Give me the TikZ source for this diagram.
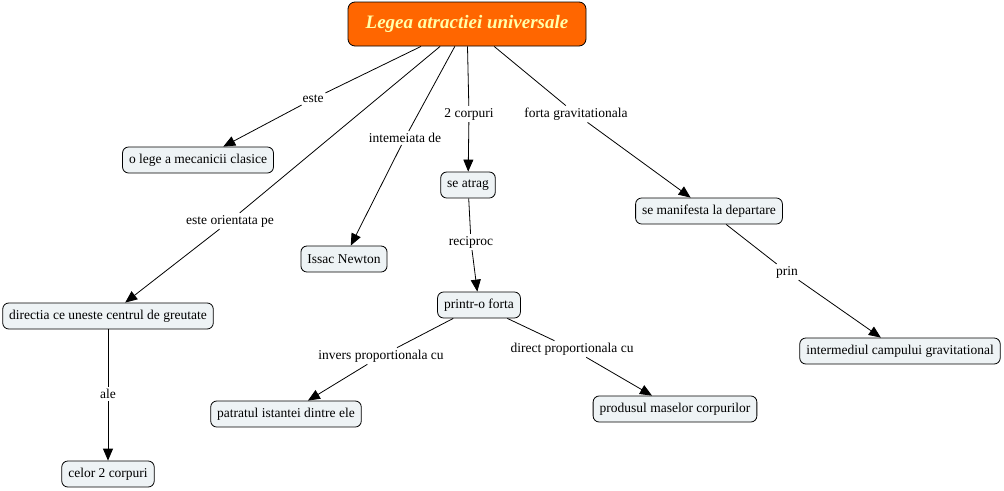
\documentclass[tikz,border=0pt]{standalone}
\usepackage{fontspec}
\setmainfont{Liberation Serif}
\usetikzlibrary{arrows.meta}

\definecolor{titleorange}{HTML}{FF6600}
\definecolor{titletext}{HTML}{FFFFAA}
\definecolor{conceptfill}{HTML}{EEF3F5}

\tikzset{
  titlebox/.style  = {draw, fill=titleorange, text=titletext, rounded corners=7pt,
                      minimum width=238pt, minimum height=44pt, line width=0.8pt,
                      font=\fontsize{19}{23}\selectfont\bfseries\itshape},
  concept/.style   = {draw, fill=conceptfill, rounded corners=6pt, minimum height=26pt,
                      inner xsep=6.5pt, line width=0.8pt, font=\fontsize{13.5}{15}\selectfont},
  linklabel/.style = {inner sep=2pt, font=\fontsize{13.5}{15}\selectfont},
  link/.style      = {line width=0.8pt, -{Triangle[length=12pt,width=10pt]}},
}

\begin{document}
\begin{tikzpicture}[x=1pt,y=-1pt]
        \useasboundingbox (0,0) rectangle (1004,490);

        % Concepts
        \node[titlebox] (lege)      at (467, 24) {Legea atractiei universale};
        \node[concept]  (clasice)   at (198,160) {o lege a mecanicii clasice};
        \node[concept]  (newton)    at (344,259) {Issac Newton};
        \node[concept]  (atrag)     at (468,185) {se atrag};
        \node[concept]  (departare) at (709,211) {se manifesta la departare};
        \node[concept]  (directia)  at (108,316) {directia ce uneste centrul de greutate};
        \node[concept]  (forta)     at (479,305) {printr-o forta};
        \node[concept]  (campul)    at (900,351) {intermediul campului gravitational};
        \node[concept]  (patratul)  at (286,414) {patratul istantei dintre ele};
        \node[concept]  (produsul)  at (675,409) {produsul maselor corpurilor};
        \node[concept]  (corpuri)   at (108,474) {celor 2 corpuri};

        % Link labels
        \node[linklabel] (este)      at (313, 99) {este};
        \node[linklabel] (intemeiata) at (405,138) {intemeiata de};
        \node[linklabel] (doi)       at (469,114) {2 corpuri};
        \node[linklabel] (gravit)    at (576,114) {forta gravitationala};
        \node[linklabel] (orientata) at (230,221) {este orientata pe};
        \node[linklabel] (reciproc)  at (471,242) {reciproc};
        \node[linklabel] (prin)      at (787,272) {prin};
        \node[linklabel] (ale)       at (108,394) {ale};
        \node[linklabel] (invers)    at (381,356) {invers proportionala cu};
        \node[linklabel] (direct)    at (572,349) {direct proportionala cu};

        % Links
        \draw[link]     (lege)      -- (este)       -- (clasice);
        \draw[link]     (lege)      -- (intemeiata) -- (newton);
        \draw[link]     (lege)      -- (doi)        -- (atrag);
        \draw[link]     (lege)      -- (gravit)     -- (departare);
        \draw[link]     (lege)      -- (orientata)  -- (directia);
        \draw[link]     (atrag)     -- (reciproc)   -- (forta);
        \draw[link]     (departare) -- (prin)       -- (campul);
        \draw[link]     (directia)  -- (ale)        -- (corpuri);
        \draw[link]     (forta)     -- (invers)     -- (patratul);
        \draw[link]     (forta)     -- (direct)     -- (produsul);
\end{tikzpicture}
\end{document}
